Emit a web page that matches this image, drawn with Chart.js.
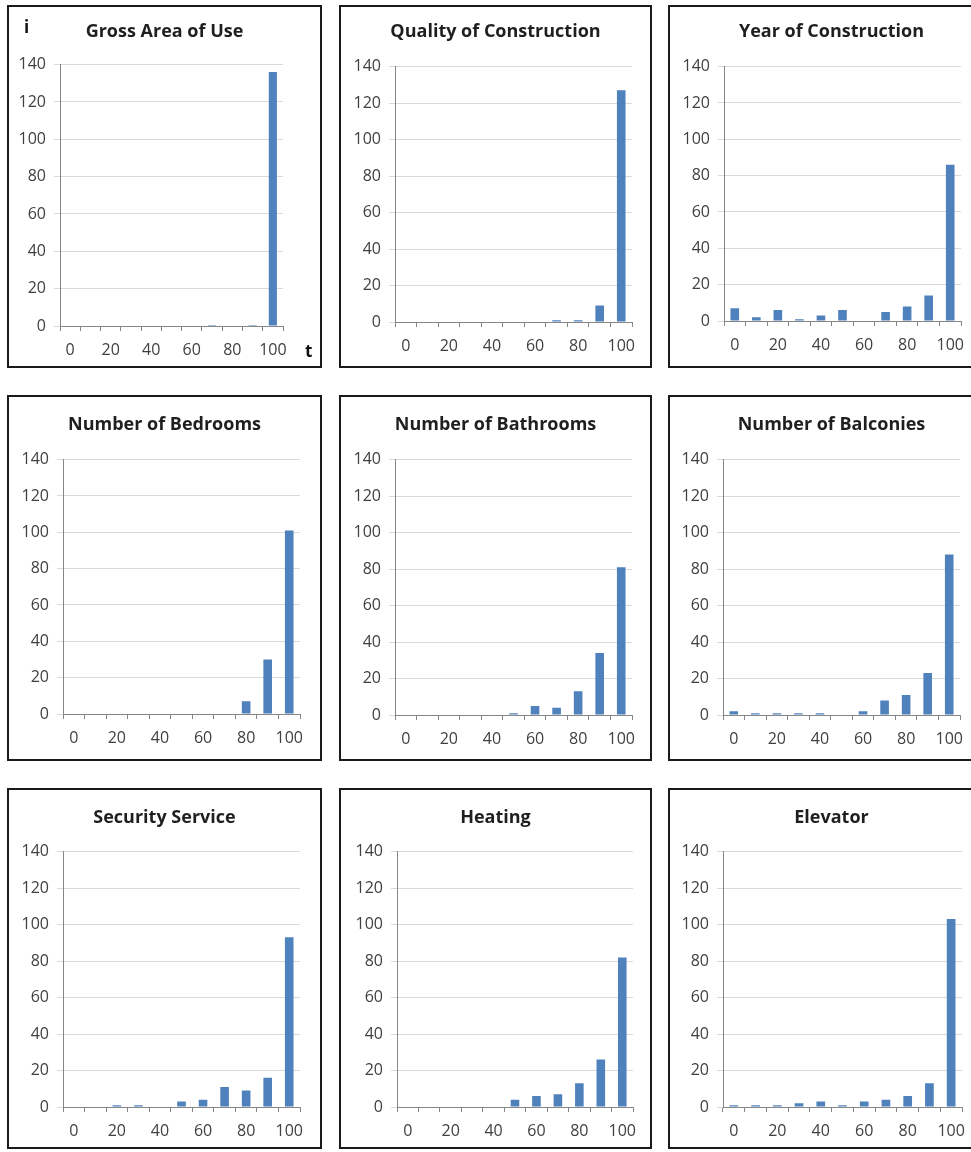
<!DOCTYPE html>
<html>
<head>
<meta charset="utf-8">
<script src="https://cdn.jsdelivr.net/npm/chart.js@4.4.1/dist/chart.umd.min.js"></script>
<style>
  html, body { margin: 0; padding: 0; background: #fff; overflow: hidden; width: 971px; height: 1152px; }
  .panel { position: absolute; border: 2px solid #1a1a1a; box-sizing: border-box; background: #fff; }
  .panel canvas { position: absolute; left: 0; top: 0; }
  .mark { position: absolute; font-family: "Open Sans", sans-serif; font-weight: bold; font-size: 17px; color: #111; }
</style>
</head>
<body>
<script>
// categories on the x axis (percent)
const categories = [0, 10, 20, 30, 40, 50, 60, 70, 80, 90, 100];
const xTickLabels = ['0', '', '20', '', '40', '', '60', '', '80', '', '100'];
const yTicks = [0, 20, 40, 60, 80, 100, 120, 140];

const titles = [
  'Gross Area of Use', 'Quality of Construction', 'Year of Construction',
  'Number of Bedrooms', 'Number of Bathrooms', 'Number of Balconies',
  'Security Service', 'Heating', 'Elevator'
];

// counts per category
const grossArea    = [0, 0, 0, 0, 0, 0, 0, 0.5, 0, 0.5, 136];
const quality      = [0, 0, 0, 0, 0, 0, 0, 1, 1, 9, 127];
const yearBuilt    = [7, 2, 6, 1, 3, 6, 0, 5, 8, 14, 86];
const bedrooms     = [0, 0, 0, 0, 0, 0, 0, 0, 7, 30, 101];
const bathrooms    = [0, 0, 0, 0, 0, 1, 5, 4, 13, 34, 81];
const balconies    = [2, 1, 1, 1, 1, 0, 2, 8, 11, 23, 88];
const security     = [0, 0, 1, 1, 0, 3, 4, 11, 9, 16, 93];
const heating      = [0, 0, 0, 0, 0, 4, 6, 7, 13, 26, 82];
const elevator     = [1, 1, 1, 2, 3, 1, 3, 4, 6, 13, 103];

const seriesList = [grossArea, quality, yearBuilt, bedrooms, bathrooms, balconies, security, heating, elevator];

// panel boxes: [left, top, right, bottom, plotLeft, plotRight, plotTop, plotZero, titleY]
const boxes = [
  [7, 5, 322, 368, 60, 283, 65, 326, 32],
  [339, 5, 652, 368, 395, 632, 67, 322, 32],
  [668, 5, 995, 368, 724, 961, 67, 321, 32],
  [7, 395, 322, 761, 63, 300, 460, 714, 425],
  [339, 395, 652, 761, 395, 632, 460, 715, 425],
  [668, 395, 995, 761, 723, 960, 460, 715, 425],
  [7, 788, 322, 1149, 63, 300, 852, 1107, 818],
  [339, 788, 652, 1149, 397, 633, 852, 1107, 818],
  [668, 788, 995, 1149, 723, 962, 852, 1107, 818]
];

const FONT = '"Open Sans", "Lato", sans-serif';
const TITLE_SIZE = 18;
const TITLE_LH = Math.round(TITLE_SIZE * 1.2);
const BORDER = 2;

seriesList.forEach((values, i) => {
  const [l, t, r, b, pl, pr, pt, pz, ty] = boxes[i];
  const div = document.createElement('div');
  div.className = 'panel';
  div.style.left = l + 'px';
  div.style.top = t + 'px';
  div.style.width = (r - l) + 'px';
  div.style.height = (b - t) + 'px';
  document.body.appendChild(div);

  const cl = l + BORDER, ct = t + BORDER;
  const cw = r - l - 2 * BORDER, ch = b - t - 2 * BORDER;
  const canvas = document.createElement('canvas');
  canvas.width = cw;
  canvas.height = ch;
  div.appendChild(canvas);

  const padTop = ty - ct - TITLE_LH / 2;
  const padBottom = (pt - ct) - padTop - TITLE_LH;
  const rightGap = (cl + cw) - pr;

  new Chart(canvas, {
    type: 'bar',
    data: {
      labels: categories,
      datasets: [{
        data: values,
        backgroundColor: '#4f81bd',
        borderWidth: 0,
        barPercentage: 0.4,
        categoryPercentage: 1.0
      }]
    },
    options: {
      responsive: false,
      animation: false,
      devicePixelRatio: 1,
      layout: { padding: 0 },
      plugins: {
        legend: { display: false },
        tooltip: { enabled: false },
        title: {
          display: true,
          text: titles[i],
          color: '#1f1f1f',
          font: { family: FONT, size: TITLE_SIZE, weight: 'bold', lineHeight: 1.2 },
          padding: { top: padTop, bottom: padBottom }
        }
      },
      scales: {
        x: {
          grid: { display: true, drawOnChartArea: false, drawTicks: true, tickLength: 5, color: '#868686', offset: true },
          border: { display: true, color: '#868686', width: 1 },
          ticks: {
            autoSkip: false, maxRotation: 0, padding: 10,
            color: '#404040', font: { family: FONT, size: 16 },
            callback: (v, idx) => xTickLabels[idx]
          },
          afterFit: (s) => { s.height = (ct + ch) - pz; }
        },
        y: {
          min: 0, max: 140,
          afterBuildTicks: (s) => { s.ticks = yTicks.map(v => ({ value: v })); },
          grid: { color: '#d9d9d9', tickColor: '#d9d9d9', tickLength: 6, lineWidth: 1 },
          border: { display: true, color: '#868686', width: 1 },
          ticks: { padding: 8, color: '#404040', font: { family: FONT, size: 16 } },
          afterFit: (s) => { s.width = pl - cl; }
        },
        // empty right-hand spacer so the title stays centred on the whole panel
        gap: {
          type: 'linear', position: 'right', display: true,
          grid: { display: false }, border: { display: false }, ticks: { display: false },
          afterFit: (s) => { s.width = rightGap; }
        }
      }
    }
  });
});

// stray letters in the first panel
const marks = [['i', 24, 15], ['t', 305, 339]];
marks.forEach(([txt, x, y]) => {
  const s = document.createElement('span');
  s.className = 'mark';
  s.textContent = txt;
  s.style.left = x + 'px';
  s.style.top = y + 'px';
  document.body.appendChild(s);
});
</script>
</body>
</html>
